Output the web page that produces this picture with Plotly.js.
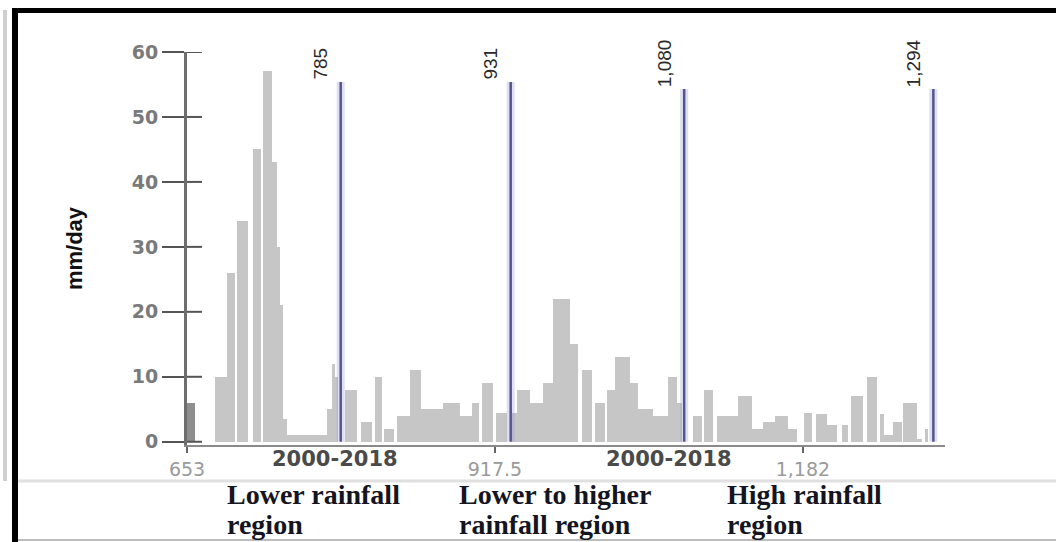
<!DOCTYPE html>
<html>
<head>
<meta charset="utf-8">
<script src="https://cdn.plot.ly/plotly-3.0.1.min.js"></script>
<style>html,body{margin:0;padding:0;background:#fff;}#chart{width:1056px;height:542px;}</style>
</head>
<body>
<div id="chart"></div>
<script>
// ---- data ----
const binLo = [653.0,677.0,687.4,696.0,709.7,718.3,726.0,730.3,732.9,735.4,738.9,747.5,756.0,764.6,773.2,777.5,780.1,
  788.7,802.4,814.5,822.2,833.3,844.5,854.0,872.9,887.5,897.8,906.3,918.4,
  932.1,936.4,947.6,958.7,967.3,981.9,992.2,1003.4,1013.7,1020.6,1033.5,1040.3,1053.2,1066.1,1073.8,
  1087.6,1097.0,1108.2,1126.2,1138.2,1147.7,1158.0,1169.1,1182.9,1193.2,1202.6,1215.5,1223.2,1237.0,
  1248.1,1251.6,1259.3,1267.9,1279.9,1286.8];
const binHi = [659.9,687.4,694.2,705.4,716.6,726.0,730.3,732.9,735.4,738.9,747.5,756.0,764.6,773.2,777.5,780.1,782.7,
  799.0,811.9,820.5,830.8,844.5,854.0,872.9,887.5,897.8,903.8,915.8,927.8,
  936.4,947.6,958.7,967.3,981.9,988.8,1000.8,1012.0,1020.6,1033.5,1040.3,1053.2,1066.1,1073.8,1078.1,
  1095.3,1104.7,1126.2,1138.2,1147.7,1158.0,1169.1,1176.9,1189.8,1202.6,1211.2,1220.7,1233.5,1245.6,
  1251.6,1259.3,1267.0,1279.9,1284.2,1289.4];
const rain = [6,10,26,34,45,57,43,30,21,3.5,1,1,1,1,5,12,10,
  8,3,10,2,4,11,5,6,4,6,9,4.5,
  4.5,8,6,9,22,15,11,6,8,13,9,5,4,10,6,
  4,8,4,7,2,3,4,2,4.5,4.2,2.6,2.6,7,10,
  4.2,1,3,6,0.5,2];

const thresholds = [785, 931, 1080, 1294];
const thresholdTop = [55.4, 55.4, 54.3, 54.3];
const thresholdLabels = ['785', '931', '1,080', '1,294'];

const xTickVals = [653, 917.5, 1182];
const xTickText = ['653', '917.5', '1,182'];
const yTickVals = [0, 10, 20, 30, 40, 50, 60];

const periodLabel = '2000-2018';
const periodX = [780, 1067];
const regionLine1 = ['Lower rainfall', 'Lower to higher', 'High rainfall'];
const regionLine2 = ['region', 'rainfall region', 'region'];

// ---- geometry helpers ----
const W = 1056, H = 542;
const M = {l: 187, r: 111, t: 52, b: 97};
const PW = W - M.l - M.r, PH = H - M.t - M.b;
const px = v => (v - M.l) / PW;           // pixel x -> paper x
const py = v => (H - M.b - v) / PH;       // pixel y -> paper y

// ---- traces ----
const barX = binLo.map((lo, i) => (lo + binHi[i]) / 2);
const barW = binLo.map((lo, i) => binHi[i] - lo);
const barColors = rain.map((v, i) => i === 0 ? '#8e8e8e' : '#c6c6c6');

const bars = {
  type: 'bar', x: barX, y: rain, width: barW,
  marker: {color: barColors, line: {width: 0}},
  hoverinfo: 'x+y', showlegend: false
};

const lx = [], ly = [];
thresholds.forEach((t, i) => { lx.push(t, t, null); ly.push(0, thresholdTop[i], null); });
const halo = {type: 'scatter', mode: 'lines', x: lx, y: ly,
  line: {color: 'rgba(150,150,215,0.3)', width: 8}, hoverinfo: 'skip', showlegend: false};
const vlines = {type: 'scatter', mode: 'lines', x: lx, y: ly,
  line: {color: '#55558c', width: 2.5}, hoverinfo: 'skip', showlegend: false};

// ---- annotations ----
const annotations = [];
thresholds.forEach((t, i) => annotations.push({
  x: t, y: thresholdTop[i], xref: 'x', yref: 'y', text: thresholdLabels[i],
  showarrow: false, textangle: -90, xanchor: 'center', yanchor: 'bottom', xshift: -20, yshift: 0,
  font: {family: 'Liberation Sans Narrow, Liberation Sans, Arial, sans-serif', size: 19, color: '#2a2a2a'}
}));
periodX.forEach(x => annotations.push({
  x: x, y: py(459), xref: 'x', yref: 'paper', text: periodLabel, showarrow: false,
  xanchor: 'center', yanchor: 'middle',
  font: {family: 'DejaVu Sans, sans-serif', size: 21, color: '#4a4a4a', weight: 'bold'}
}));
const regionLeft = [225, 457, 725];
regionLine1.forEach((s, i) => {
  annotations.push({x: px(regionLeft[i]), y: py(495), xref: 'paper', yref: 'paper', text: '<b>' + s + '</b>',
    showarrow: false, xanchor: 'left', yanchor: 'middle',
    font: {family: 'Liberation Serif, Times New Roman, serif', size: 28, color: '#15151f'}});
  annotations.push({x: px(regionLeft[i]), y: py(524), xref: 'paper', yref: 'paper', text: '<b>' + regionLine2[i] + '</b>',
    showarrow: false, xanchor: 'left', yanchor: 'middle',
    font: {family: 'Liberation Serif, Times New Roman, serif', size: 28, color: '#15151f'}});
});

// ---- shapes: inner part of y ticks and the frame ----
const shapes = [];
yTickVals.forEach(v => shapes.push({type: 'line', xref: 'paper', yref: 'y',
  x0: 0, x1: 15 / PW, y0: v, y1: v, line: {color: '#555', width: 2}}));
shapes.push({type: 'rect', xref: 'paper', yref: 'paper', x0: px(12), x1: px(1056), y0: py(8), y1: py(13),
  fillcolor: '#000', line: {width: 0}});
shapes.push({type: 'rect', xref: 'paper', yref: 'paper', x0: px(12), x1: px(18), y0: py(8), y1: py(542),
  fillcolor: '#000', line: {width: 0}});
shapes.push({type: 'rect', xref: 'paper', yref: 'paper', x0: px(3), x1: px(7), y0: py(10), y1: py(481),
  fillcolor: '#cfcfcf', line: {width: 0}});
shapes.push({type: 'line', xref: 'paper', yref: 'paper', x0: px(18), x1: px(1056), y0: py(481), y1: py(481),
  line: {color: '#e0e0e0', width: 3}});
shapes.push({type: 'line', xref: 'paper', yref: 'paper', x0: px(18), x1: px(1056), y0: py(540), y1: py(540),
  line: {color: '#bdbdbd', width: 2}});

const layout = {
  width: W, height: H, margin: M,
  paper_bgcolor: '#fff', plot_bgcolor: '#fff',
  bargap: 0, showlegend: false,
  xaxis: {range: [653, 1304], tickvals: xTickVals, ticktext: xTickText,
    showgrid: false, zeroline: false, showline: true, linecolor: '#8a8a8a', linewidth: 2,
    ticks: 'outside', ticklen: 6, tickwidth: 2, tickcolor: '#666',
    tickfont: {family: 'DejaVu Sans, sans-serif', size: 19, color: '#9a9a9a'}},
  yaxis: {range: [-0.5, 60], tickvals: yTickVals,
    showgrid: false, zeroline: false, showline: true, linecolor: '#6e6e6e', linewidth: 3,
    ticks: 'outside', ticklen: 22, tickwidth: 2, tickcolor: '#555',
    tickfont: {family: 'DejaVu Sans, sans-serif', size: 19, color: '#7a7a7a', weight: 'bold'},
    title: {text: 'mm/day', standoff: 44,
      font: {family: 'Liberation Sans, Arial, sans-serif', size: 22, color: '#111', weight: 'bold'}}},
  annotations: annotations,
  shapes: shapes
};

Plotly.newPlot('chart', [bars, halo, vlines], layout, {displayModeBar: false, staticPlot: true});
</script>
</body>
</html>
